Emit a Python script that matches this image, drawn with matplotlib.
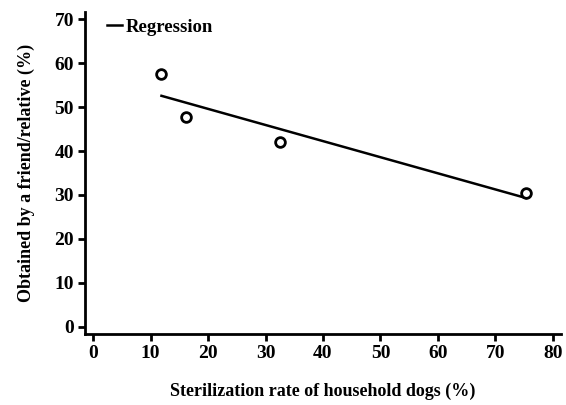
import matplotlib.pyplot as plt
import numpy as np

plt.rcParams['font.family'] = ['Liberation Serif', 'DejaVu Serif']
plt.rcParams['font.weight'] = 'bold'
plt.rcParams['axes.labelweight'] = 'bold'

# sterilization rate (%) vs obtained by friend/relative (%)
steril = [11.9, 16.2, 32.6, 75.3]
friend = [57.5, 47.8, 42.0, 30.5]
xticks = [0, 10, 20, 30, 40, 50, 60, 70, 80]
yticks = [0, 10, 20, 30, 40, 50, 60, 70]

fig = plt.figure(figsize=(5.66, 4.05), dpi=100)
ax = fig.add_axes([85 / 566, 71 / 405, 476 / 566, 322 / 405])

slope, icpt = np.polyfit(steril, friend, 1)
xs = np.array([min(steril), max(steril)])
ax.plot(xs, slope * xs + icpt, color="black", lw=1.8, label="Regression")
ax.plot(steril, friend, "o", ms=7, mfc="white", mec="black", mew=2)

ax.set_xlim(-1.4, 81.4)
ax.set_ylim(-1.6, 71.6)
ax.set_xticks(xticks)
ax.set_yticks(yticks)
for s in ["top", "right"]:
    ax.spines[s].set_visible(False)
for s in ["left", "bottom"]:
    ax.spines[s].set_linewidth(2)
ax.tick_params(width=2, length=5, labelsize=14, pad=3)

ax.set_xlabel("Sterilization rate of household dogs (%)", fontsize=13, labelpad=15)
ax.set_ylabel("Obtained by a friend/relative (%)", fontsize=13, labelpad=14)

ax.legend(loc="upper left", frameon=False, prop={'size': 13.5, 'weight': 'bold'},
          handlelength=0.8, handletextpad=0.2, borderaxespad=0.2,
          bbox_to_anchor=(0.022, 1.015))

fig.savefig("out.png", dpi=100)
